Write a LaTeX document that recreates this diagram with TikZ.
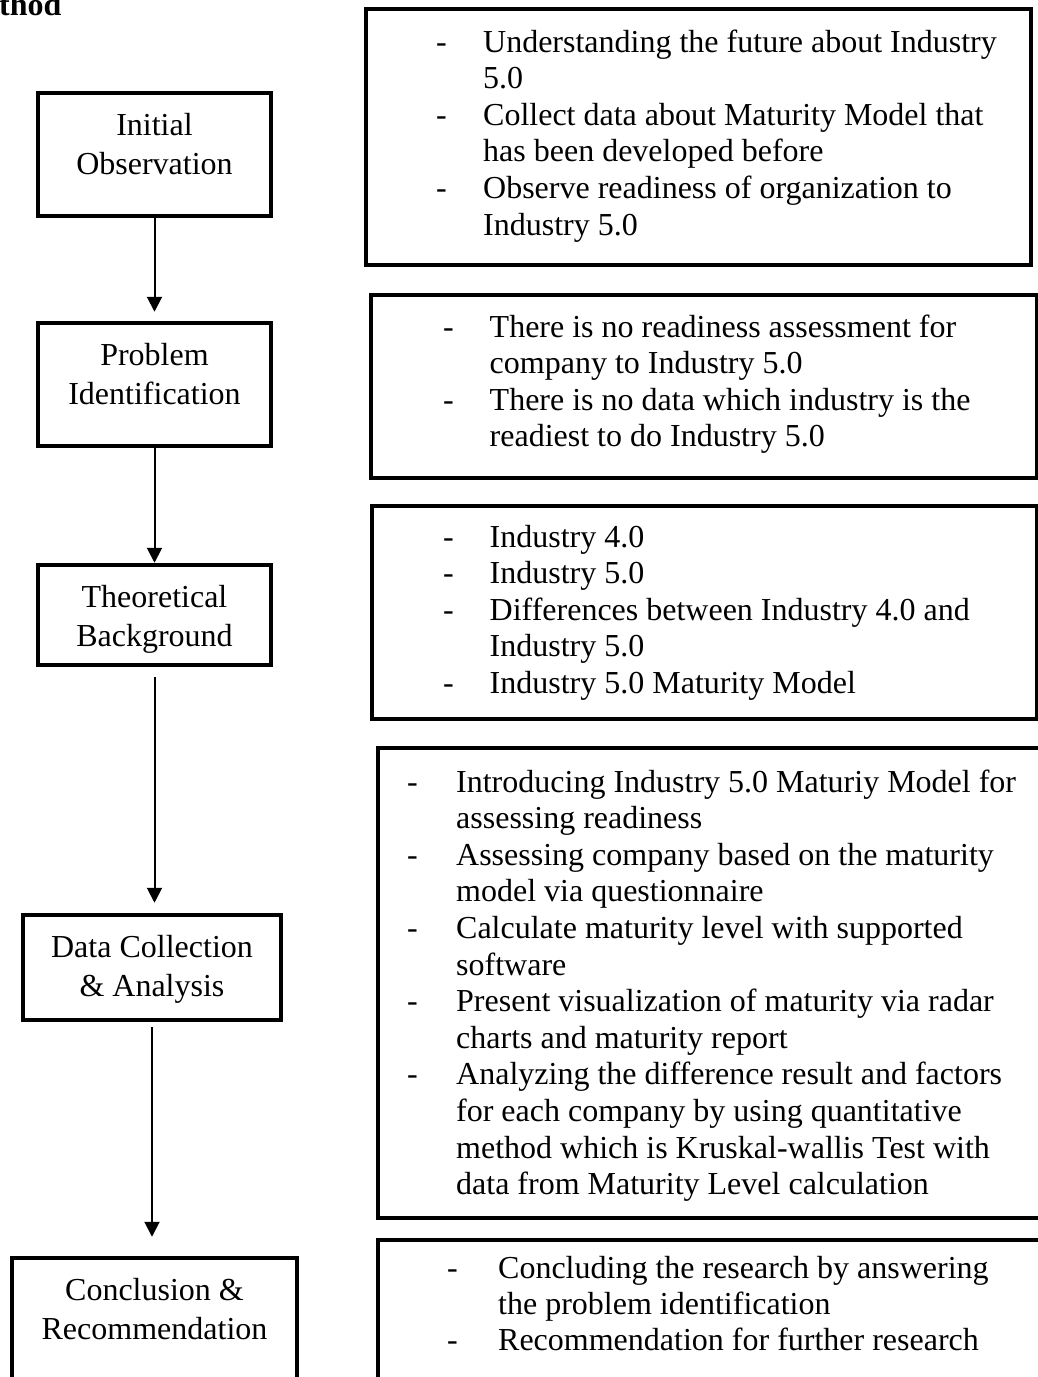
\documentclass[tikz,border=0pt]{standalone}
\usepackage{fontspec}
\setmainfont{Liberation Serif}
\usetikzlibrary{arrows.meta}
\tikzset{
    stepbox/.style={
        draw,
        line width=4.5pt,
        inner sep=0pt,
        minimum width=233pt,
        minimum height=123pt
    },
    notebox/.style={
        draw,
        line width=4.5pt,
        inner sep=0pt
    },
    steptext/.style={
        anchor=base,
        inner sep=0pt,
        font=\fontsize{32}{39.5}\selectfont
    },
    notetext/.style={
        anchor=base west,
        inner sep=0pt,
        font=\fontsize{32}{36.6}\selectfont
    },
    titletext/.style={
        anchor=base west,
        inner sep=0pt,
        font=\bfseries\fontsize{32}{36}\selectfont
    },
    flow/.style={
        -{Triangle[width=15pt,length=15pt]},
        line width=2pt
    }
}

\begin{document}
\begin{tikzpicture}[x=1pt, y=-1pt]
        \useasboundingbox (0,0) rectangle (1037,1377);
        \node[titletext] (title) at (-1,15) {thod};

        % steps
        \node[stepbox] (init) at (154.5,154.5) {};
        \node[stepbox] (probl) at (154.5,384.5) {};
        \node[stepbox, minimum height=100pt] (theory) at (154.5,615) {};
        \node[stepbox, minimum width=258pt, minimum height=105pt] (data) at (152,967.5) {};
        \node[stepbox, minimum width=285pt, minimum height=160pt] (concl) at (154.5,1338) {};

        \node[steptext] (initT) at (154.5,135) {\begin{tabular}[t]{@{}c@{}}Initial\\Observation\end{tabular}};
        \node[steptext] (problT) at (154.5,365) {\begin{tabular}[t]{@{}c@{}}Problem\\Identification\end{tabular}};
        \node[steptext] (theoryT) at (154.5,607) {\begin{tabular}[t]{@{}c@{}}Theoretical\\Background\end{tabular}};
        \node[steptext] (dataT) at (152,957) {\begin{tabular}[t]{@{}c@{}}Data Collection\\\& Analysis\end{tabular}};
        \node[steptext] (conclT) at (154.5,1300) {\begin{tabular}[t]{@{}c@{}}Conclusion \&\\Recommendation\end{tabular}};

        \draw[flow, shorten >=9pt] (init) -- (probl);
        \draw[flow] (probl) -- (theory);
        \draw[flow, shorten <=10pt, shorten >=10pt] (theory.south) -- (theory.south |- data.north);
        \draw[flow, shorten <=5pt, shorten >=19pt] (data.south) -- (data.south |- concl.north);

        % notes
        \node[notebox, minimum width=665pt, minimum height=256pt] (initN) at (698.5,137) {};
        \node[notebox, minimum width=666pt, minimum height=183pt] (problN) at (704,386.5) {};
        \node[notebox, minimum width=665pt, minimum height=213pt] (theoryN) at (704.5,612.5) {};
        \node[notebox, minimum width=670pt, minimum height=470pt] (dataN) at (713,983) {};
        \node[notebox, minimum width=670pt, minimum height=178pt] (conclN) at (713,1329) {};

        \node[notetext] (initL) at (436,52) {\begin{tabular}[t]{@{}p{47pt}@{}l@{}}
            - & Understanding the future about Industry\\
              & 5.0\\
            - & Collect data about Maturity Model that\\
              & has been developed before\\
            - & Observe readiness of organization to\\
              & Industry 5.0
        \end{tabular}};
        \node[notetext] (problL) at (443,337) {\begin{tabular}[t]{@{}p{46.5pt}@{}l@{}}
            - & There is no readiness assessment for\\
              & company to Industry 5.0\\
            - & There is no data which industry is the\\
              & readiest to do Industry 5.0
        \end{tabular}};
        \node[notetext] (theoryL) at (443,547) {\begin{tabular}[t]{@{}p{46.5pt}@{}l@{}}
            - & Industry 4.0\\
            - & Industry 5.0\\
            - & Differences between Industry 4.0 and\\
              & Industry 5.0\\
            - & Industry 5.0 Maturity Model
        \end{tabular}};
        \node[notetext] (dataL) at (407,792) {\begin{tabular}[t]{@{}p{49pt}@{}l@{}}
            - & Introducing Industry 5.0 Maturiy Model for\\
              & assessing readiness\\
            - & Assessing company based on the maturity\\
              & model via questionnaire\\
            - & Calculate maturity level with supported\\
              & software\\
            - & Present visualization of maturity via radar\\
              & charts and maturity report\\
            - & Analyzing the difference result and factors\\
              & for each company by using quantitative\\
              & method which is Kruskal-wallis Test with\\
              & data from Maturity Level calculation
        \end{tabular}};
        \node[notetext, font=\fontsize{32}{36}\selectfont] (conclL) at (447,1278) {\begin{tabular}[t]{@{}p{51pt}@{}l@{}}
            - & Concluding the research by answering\\
              & the problem identification\\
            - & Recommendation for further research
        \end{tabular}};
    \end{tikzpicture}
\end{document}
